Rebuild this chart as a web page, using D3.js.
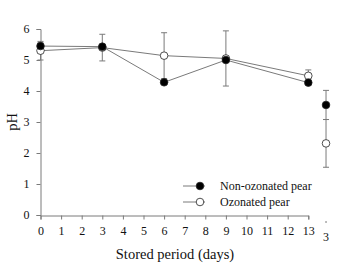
<!DOCTYPE html>
<html lang="en">
<head>
<meta charset="UTF-8">
<title>pH of pear</title>
<style>
  body { margin: 0; background: #fff; }
  text { font-family: "Liberation Serif", "Times New Roman", serif; }
</style>
<script src="https://cdnjs.cloudflare.com/ajax/libs/d3/7.8.5/d3.min.js"></script>
</head>
<body>
<script>
// storage days and pH readings
const days = [0, 3, 6, 9, 13];
const nonOzonated = [5.45, 5.43, 4.28, 5.0, 4.27];
const nonOzonatedErr = [0.1, 0.05, 0.05, 0.05, 0.05];
const ozonated = [5.3, 5.4, 5.14, 5.05, 4.49];
const ozonatedErr = [0.3, 0.43, 0.74, 0.89, 0.19];

// stray point cut in from the next panel
const extraX = 13.86;
const extraLabel = "3";
const extraNon = 3.55, extraNonErr = 0.47;
const extraOz = 2.31, extraOzErr = 0.77;

const xTicks = d3.range(0, 14);
const yTicks = [0, 1, 2, 3, 4, 5, 6];
const seriesNames = ["Non-ozonated pear", "Ozonated pear"];

const W = 342, H = 276;
const svg = d3.select("body").append("svg").attr("width", W).attr("height", H);

const x = d3.scaleLinear().domain([0, 13]).range([40.5, 308.3]);
const y = d3.scaleLinear().domain([0, 6]).range([215, 29]);

const grey = "#7a7a7a";

// axes
const xAxis = svg.append("g").attr("transform", "translate(0,215.5)")
  .call(d3.axisBottom(x).tickValues(xTicks).tickSize(4).tickPadding(7).tickFormat(d3.format("d")));
const yAxis = svg.append("g").attr("transform", "translate(40.5,0)")
  .call(d3.axisLeft(y).tickValues(yTicks).tickSize(4).tickPadding(7).tickFormat(d3.format("d")));
[xAxis, yAxis].forEach(a => {
  a.attr("font-family", null);
  a.select(".domain").attr("stroke", grey);
  a.selectAll(".tick line").attr("stroke", grey);
  a.selectAll(".tick text").attr("font-size", 12).attr("fill", "#111");
});

// stray tick of the cut panel
svg.append("line").attr("x1", x(extraX)).attr("x2", x(extraX))
  .attr("y1", 221).attr("y2", 223).attr("stroke", grey);
svg.append("text").attr("x", x(extraX)).attr("y", 241).attr("text-anchor", "middle")
  .attr("font-size", 12).attr("fill", "#111").text(extraLabel);

// axis titles
svg.append("text").attr("x", 175).attr("y", 259).attr("text-anchor", "middle")
  .attr("font-size", 14.5).attr("fill", "#111").text("Stored period (days)");
svg.append("text").attr("transform", "translate(17,122) rotate(-90)")
  .attr("text-anchor", "middle").attr("font-size", 14.5).attr("fill", "#111").text("pH");

// error bars
function errBar(xv, v, e) {
  const g = svg.append("g").attr("stroke", grey).attr("stroke-width", 1);
  g.append("line").attr("x1", x(xv)).attr("x2", x(xv)).attr("y1", y(v + e)).attr("y2", y(v - e));
  [v + e, v - e].forEach(t => g.append("line")
    .attr("x1", x(xv) - 3).attr("x2", x(xv) + 3).attr("y1", y(t)).attr("y2", y(t)));
}
days.forEach((d, i) => {
  errBar(d, ozonated[i], ozonatedErr[i]);
  errBar(d, nonOzonated[i], nonOzonatedErr[i]);
});
errBar(extraX, extraNon, extraNonErr);
errBar(extraX, extraOz, extraOzErr);

// lines
const line = d3.line().x(d => x(d[0])).y(d => y(d[1]));
[nonOzonated, ozonated].forEach(vals => {
  svg.append("path").datum(days.map((d, i) => [d, vals[i]]))
    .attr("d", line).attr("fill", "none").attr("stroke", grey).attr("stroke-width", 1);
});

// markers
function dots(xs, vals, fill) {
  svg.selectAll(null).data(xs.map((d, i) => [d, vals[i]])).enter().append("circle")
    .attr("cx", d => x(d[0])).attr("cy", d => y(d[1])).attr("r", 3.8)
    .attr("fill", fill).attr("stroke", "#222").attr("stroke-width", 0.8);
}
dots(days, ozonated, "#fff");
dots(days, nonOzonated, "#000");
dots([extraX], [extraOz], "#fff");
dots([extraX], [extraNon], "#000");

// legend
const legend = svg.append("g").attr("transform", "translate(183,186)");
seriesNames.forEach((name, i) => {
  const row = legend.append("g").attr("transform", `translate(0,${i * 16})`);
  row.append("line").attr("x1", 0).attr("x2", 22).attr("stroke", grey);
  row.append("circle").attr("cx", 17).attr("r", 3.8)
    .attr("fill", i === 0 ? "#000" : "#fff").attr("stroke", "#222").attr("stroke-width", 0.8);
  row.append("text").attr("x", 37).attr("y", 4).attr("font-size", 12).attr("fill", "#111").text(name);
});
</script>
</body>
</html>
